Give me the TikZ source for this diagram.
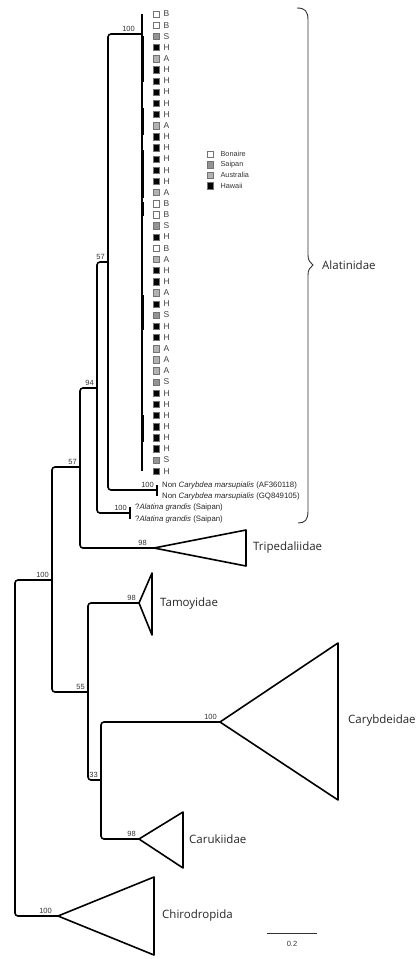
\documentclass[tikz,border=0pt]{standalone}
\usepackage{fontspec}
\setmainfont{Liberation Sans}
\newfontfamily\cladefont{Open Sans}
\usetikzlibrary{positioning}
\colorlet{siteB}{white}
\colorlet{siteS}{black!42}
\colorlet{siteA}{black!30}
\colorlet{siteH}{black}

\begin{document}
\begin{tikzpicture}[
  x=1pt, y=-1pt,
  br/.style={line width=1.6pt, rounded corners=3pt},
  tri/.style={line width=1.6pt, line join=round},
  bs/.style={font=\fontsize{7.5}{8}\selectfont, text=black!80, anchor=south east, inner sep=0pt, xshift=-3pt, yshift=2pt},
  taxon/.style={font=\fontsize{7.8}{9}\selectfont, text=black!85, anchor=west, inner sep=0pt},
  site/.style={draw=black!55, line width=0.4pt, minimum size=6.4pt, inner sep=0pt},
  sitelab/.style={font=\fontsize{8.5}{9}\selectfont, text=black!75, anchor=west, inner sep=0pt},
  clade/.style={font=\cladefont\fontsize{11.5}{13}\selectfont, text=black!85, anchor=west, inner sep=0pt},
  key/.style={font=\fontsize{7.3}{8}\selectfont, text=black!80, anchor=west, inner sep=0pt},
]
\useasboundingbox (0,0) rectangle (417,959);

% internal nodes and tips
\coordinate (root) at (15,748);
\coordinate (n100) at (52,580);
\coordinate (n57a) at (80,467);
\coordinate (n94) at (97,388);
\coordinate (n57b) at (108,262);
\coordinate (alat) at (142,34);
\coordinate (noncar) at (157,490);
\coordinate (grandis) at (130,513);
\coordinate (trip) at (154,548);
\coordinate (n55) at (88,692);
\coordinate (tamo) at (139,603);
\coordinate (n33) at (101,780);
\coordinate (caryb) at (220,722);
\coordinate (caruk) at (139,839);
\coordinate (chiro) at (58,916);

\draw[br] (n100) -| (root) |- (chiro);
\draw[br] (n57a) -| (n100) |- (n55);
\draw[br] (n94) -| (n57a) |- (trip);
\draw[br] (n57b) -| (n94) |- (grandis);
\draw[br] (alat) -| (n57b) |- (noncar);
\draw[br] (tamo) -| (n55) |- (n33);
\draw[br] (caryb) -| (n33) |- (caruk);

% Alatinidae haplotypes
\coordinate (alat-t) at (142,14);
\coordinate (alat-b) at (142,471);
\draw[line width=1.6pt] (alat-t) -- (alat-b);
\foreach \a/\b in {36/82,108/135,150/198,202/216,295/330,415/442}
  \draw[line width=1.4pt] (143.2,\a) -- (143.2,\b);
\foreach \c [count=\i from 0] in {B,B,S,H,A,H,H,H,H,H,A,H,H,H,H,H,A,B,B,S,H,B,A,H,H,A,H,S,H,H,A,A,A,S,H,H,H,H,H,H,S,H} {
  \node[site, fill=site\c] (s\i) at (156,{14+\i*11.15}) {};
  \node[sitelab, right=4pt of s\i] (l\i) {\c};
}

\coordinate (nc-a) at (157,485);
\coordinate (nc-b) at (157,496);
\draw[line width=1.3pt] (nc-a) -- (nc-b);
\node[taxon] (nc1) at (162,485) {Non \textit{Carybdea marsupialis} (AF360118)};
\node[taxon] (nc2) at (162,496) {Non \textit{Carybdea marsupialis} (GQ849105)};

\coordinate (ag-a) at (130,507);
\coordinate (ag-b) at (130,519);
\draw[line width=1.3pt] (ag-a) -- (ag-b);
\node[taxon] (ag1) at (135,507) {?\textit{Alatina grandis} (Saipan)};
\node[taxon] (ag2) at (135,519) {?\textit{Alatina grandis} (Saipan)};

% collapsed clades
\coordinate (trip-r) at (246,548);
\draw[tri] (trip) -- (246,530) -- (246,566) -- cycle;
\node[clade, right=7pt of trip-r] (trip-lab) {Tripedaliidae};
\coordinate (tamo-r) at (152,604);
\draw[tri] (tamo) -- (152,573) -- (152,635) -- cycle;
\node[clade, right=8pt of tamo-r] (tamo-lab) {Tamoyidae};
\coordinate (caryb-r) at (338,721);
\draw[tri] (caryb) -- (338,643) -- (338,800) -- cycle;
\node[clade, right=10pt of caryb-r] (caryb-lab) {Carybdeidae};
\coordinate (caruk-r) at (183,839);
\draw[tri] (caruk) -- (183,812) -- (183,868) -- cycle;
\node[clade, right=6pt of caruk-r] (caruk-lab) {Carukiidae};
\coordinate (chiro-r) at (154,916);
\draw[tri] (chiro) -- (154,877) -- (154,955) -- cycle;
\node[clade, right=8pt of chiro-r] (chiro-lab) {Chirodropida};

% bootstrap values
\node[bs] (bs-n100) at (n100) {100};
\node[bs] (bs-n57a) at (n57a) {57};
\node[bs] (bs-n94) at (n94) {94};
\node[bs] (bs-n57b) at (n57b) {57};
\node[bs, xshift=-4pt] (bs-alat) at (alat) {100};
\node[bs] (bs-noncar) at (noncar) {100};
\node[bs] (bs-grandis) at (grandis) {100};
\node[bs, xshift=-4pt] (bs-trip) at (trip) {98};
\node[bs] (bs-tamo) at (tamo) {98};
\node[bs] (bs-n55) at (n55) {55};
\node[bs] (bs-n33) at (n33) {33};
\node[bs] (bs-caryb) at (caryb) {100};
\node[bs] (bs-caruk) at (caruk) {98};
\node[bs, xshift=-3pt] (bs-chiro) at (chiro) {100};

% legend
\foreach \k/\name [count=\j from 0] in {B/Bonaire,S/Saipan,A/Australia,H/Hawaii} {
  \node[site, fill=site\k] (key\j) at (210,{154+\j*10.5}) {};
  \node[key, right=7pt of key\j] (keylab\j) {\name};
}

% brace
\coordinate (brace-tip) at (313,265);
\draw[line width=0.9pt, black!80] (297,8) .. controls (305,8) and (308,11) .. (308,20) -- (308,255)
  .. controls (308,260) and (310,263) .. (brace-tip) .. controls (310,267) and (308,270) .. (308,275)
  -- (308,511) .. controls (308,520) and (305,523) .. (298,523);
\node[clade, right=9pt of brace-tip] (alat-lab) {Alatinidae};

% scale bar
\coordinate (sb-l) at (267,933);
\coordinate (sb-r) at (317,933);
\draw[line width=1pt, black!80] (sb-l) -- (sb-r) node[midway, below=8pt, inner sep=0pt, font=\fontsize{7.5}{8}\selectfont, text=black!80] (sb-lab) {0.2};
\end{tikzpicture}
\end{document}
